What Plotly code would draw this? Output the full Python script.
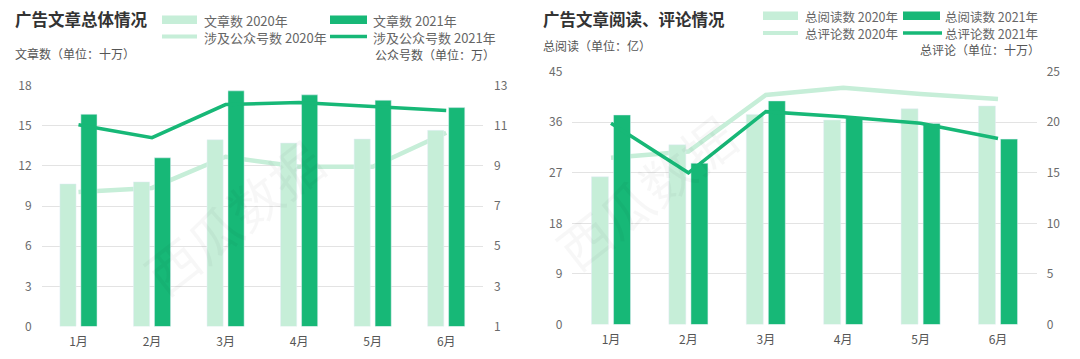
import plotly.graph_objects as go

# ---------------- data ----------------
months = ["1月", "2月", "3月", "4月", "5月", "6月"]

articles_2020 = [10.65, 10.8, 13.95, 13.7, 14.0, 14.65]      # 文章数 (十万)
articles_2021 = [15.85, 12.6, 17.6, 17.3, 16.9, 16.35]
accounts_2020 = [7.7, 7.9, 9.45, 8.95, 8.95, 10.65]           # 公众号数 (万)
accounts_2021 = [11.05, 10.4, 12.05, 12.15, 11.95, 11.75]

reads_2020 = [26.3, 32.0, 37.4, 36.4, 38.4, 38.9]             # 总阅读 (亿)
reads_2021 = [37.3, 28.7, 39.8, 36.9, 35.8, 33.0]
comments_2020 = [16.5, 17.1, 22.7, 23.4, 22.8, 22.3]          # 总评论 (十万)
comments_2021 = [19.9, 15.0, 21.05, 20.55, 19.9, 18.4]

left_ticks = [0, 3, 6, 9, 12, 15, 18]
right_ticks = [1, 3, 5, 7, 9, 11, 13]
read_ticks = [0, 9, 18, 27, 36, 45]
comment_ticks = [0, 5, 10, 15, 20, 25]

# ---------------- style ----------------
LIGHT = "#c6eed8"
DARK = "#17b877"
GRID = "#e3e3e3"
TICK = "#6b6b6b"
FONT = "Noto Sans CJK SC, Noto Sans, sans-serif"
# the page body has an 8px margin; size the figure so it exactly fills the 1080x359 window
OFF = 8
W, H = 1080 - OFF, 359 - OFF


def px(x):
    return (x - OFF) / W


def py(y):
    return 1 - (y - OFF) / H


fig = go.Figure()

# ----- left chart -----
fig.add_trace(go.Scatter(x=months, y=accounts_2020, mode="lines", name="涉及公众号数 2020年",
                         line=dict(color=LIGHT, width=4.5), xaxis="x", yaxis="y"))
fig.add_trace(go.Bar(x=months, y=articles_2020, name="文章数 2020年", marker_color=LIGHT,
                     xaxis="x", yaxis="y2"))
fig.add_trace(go.Bar(x=months, y=articles_2021, name="文章数 2021年", marker_color=DARK,
                     xaxis="x", yaxis="y2"))
fig.add_trace(go.Scatter(x=months, y=accounts_2021, mode="lines", name="涉及公众号数 2021年",
                         line=dict(color=DARK, width=3.5), xaxis="x", yaxis="y3"))

# ----- right chart -----
fig.add_trace(go.Scatter(x=months, y=comments_2020, mode="lines", name="总评论数 2020年",
                         line=dict(color=LIGHT, width=4.5), xaxis="x2", yaxis="y4"))
fig.add_trace(go.Bar(x=months, y=reads_2020, name="总阅读数 2020年", marker_color=LIGHT,
                     xaxis="x2", yaxis="y5"))
fig.add_trace(go.Bar(x=months, y=reads_2021, name="总阅读数 2021年", marker_color=DARK,
                     xaxis="x2", yaxis="y5"))
fig.add_trace(go.Scatter(x=months, y=comments_2021, mode="lines", name="总评论数 2021年",
                         line=dict(color=DARK, width=3.5), xaxis="x2", yaxis="y6"))

for tr in fig.data:
    tr.showlegend = False

tickfont = dict(family=FONT, size=12, color=TICK)
xcommon = dict(type="category", showgrid=False, zeroline=False, showline=False, ticks="",
               tickfont=dict(family=FONT, size=12, color="#555"), ticklabelstandoff=6,
               automargin=False)

fig.update_layout(
    width=W, height=H,
    margin=dict(l=0, r=0, t=0, b=0, pad=0, autoexpand=False),
    paper_bgcolor="white", plot_bgcolor="rgba(0,0,0,0)",
    barmode="group", bargap=0.43, bargroupgap=0.23,
    showlegend=False,
    font=dict(family=FONT),
    xaxis=dict(domain=[px(41.7), px(483)], anchor="y2", **xcommon),
    yaxis=dict(domain=[py(326.5), py(85.5)], anchor="x", side="right", range=[1, 13],
               tickvals=right_ticks, showgrid=False, zeroline=False, ticks="",
               tickfont=tickfont, ticklabelstandoff=10, automargin=False),
    yaxis2=dict(overlaying="y", anchor="x", side="left", range=[0, 18], tickvals=left_ticks,
                showgrid=True, gridcolor=GRID, gridwidth=1, zeroline=False, ticks="",
                tickfont=tickfont, ticklabelstandoff=9, automargin=False),
    yaxis3=dict(overlaying="y", anchor="x", range=[1, 13], visible=False),
    xaxis2=dict(domain=[px(572.3), px(1036.7)], anchor="y5", **xcommon),
    yaxis4=dict(domain=[py(324.5), py(71.7)], anchor="x2", side="right", range=[0, 25],
                tickvals=comment_ticks, showgrid=False, zeroline=False, ticks="",
                tickfont=tickfont, ticklabelstandoff=9, automargin=False),
    yaxis5=dict(overlaying="y4", anchor="x2", side="left", range=[0, 45], tickvals=read_ticks,
                showgrid=True, gridcolor=GRID, gridwidth=1, zeroline=False, ticks="",
                tickfont=tickfont, ticklabelstandoff=9, automargin=False),
    yaxis6=dict(overlaying="y4", anchor="x2", range=[0, 25], visible=False),
)

shapes = []
annotations = []


def text(x, y, s, size=12.5, color="#555", anchor="left", bold=False):
    annotations.append(dict(x=px(x), y=py(y), xref="paper", yref="paper",
                            text=(f"<b>{s}</b>" if bold else s),
                            showarrow=False, xanchor=anchor, yanchor="middle",
                            height=round(size * 1.22), valign="middle", borderpad=0,
                            font=dict(family=FONT, size=size, color=color)))


def rect(x0, x1, y0, y1, color):
    shapes.append(dict(type="rect", xref="paper", yref="paper", x0=px(x0), x1=px(x1),
                       y0=py(y1), y1=py(y0), fillcolor=color, line=dict(width=0)))


def hline(x0, x1, y, color, width):
    shapes.append(dict(type="line", xref="paper", yref="paper", x0=px(x0), x1=px(x1),
                       y0=py(y), y1=py(y), line=dict(color=color, width=width)))


# watermarks
for (wx, wy) in [(125, 120), (645, 95)]:
    annotations.append(dict(x=px(wx), y=py(wy), xref="paper", yref="paper", text="西瓜数据",
                            showarrow=False, textangle=-38,
                            font=dict(family=FONT, size=52, color="rgba(0,0,0,0.03)")))

# left titles / legend
text(14, 19, "广告文章总体情况", size=16.5, color="#333", bold=True)
rect(162, 197, 15.5, 24, LIGHT)
text(203, 20, "文章数 2020年", size=13, color="#666")
rect(330, 367, 15.5, 24, DARK)
text(372, 20, "文章数 2021年", size=13, color="#666")
hline(162, 197, 36.5, LIGHT, 4)
text(203, 36.5, "涉及公众号数 2020年", size=13, color="#666")
hline(330, 367, 36.5, DARK, 3.5)
text(372, 36.5, "涉及公众号数 2021年", size=13, color="#666")
text(14, 53.5, "文章数（单位：十万）", size=12, color="#555")
text(496, 54, "公众号数（单位：万）", size=12, color="#555", anchor="right")

# right titles / legend
text(542, 18.5, "广告文章阅读、评论情况", size=16.5, color="#333", bold=True)
rect(763, 798, 11.5, 20, LIGHT)
text(804, 16.5, "总阅读数 2020年", size=12.5, color="#666")
rect(903, 940, 11.5, 20, DARK)
text(944, 16.5, "总阅读数 2021年", size=12.5, color="#666")
hline(763, 798, 33, LIGHT, 4)
text(804, 33, "总评论数 2020年", size=12.5, color="#666")
hline(903, 942, 33, DARK, 3.5)
text(944, 33, "总评论数 2021年", size=12.5, color="#666")
text(542, 45, "总阅读（单位：亿）", size=12, color="#555")
text(1041, 49.5, "总评论（单位：十万）", size=12, color="#555", anchor="right")

fig.update_layout(shapes=shapes, annotations=annotations)

fig.write_html("out.html")
